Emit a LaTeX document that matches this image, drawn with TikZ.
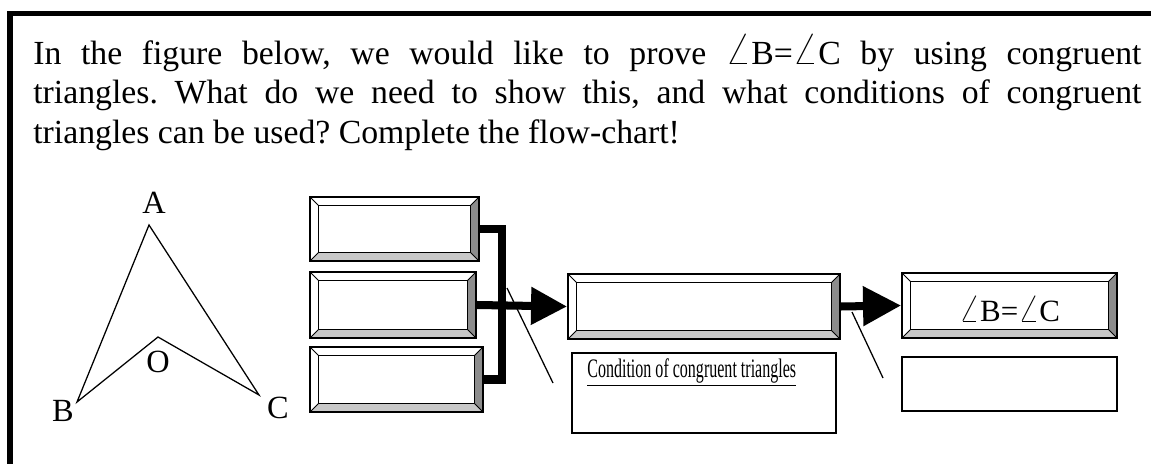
\documentclass[tikz,border=0pt]{standalone}
\usepackage{fontspec}
\setmainfont{Liberation Serif}
\usepackage{graphicx}
\usetikzlibrary{arrows.meta, calc}

\definecolor{bevdark}{HTML}{8c8c8c}
\definecolor{bevlight}{HTML}{c8c8c8}

\newcommand{\ang}{\smash{\scalebox{1.35}{$\angle$}}}
\def\bd{0.22cm}
\frenchspacing

\tikzset{
  bevel/.style={draw, line width=1.3pt, inner sep=0pt, path picture={
      \coordinate (nw) at (path picture bounding box.north west);
      \coordinate (ne) at (path picture bounding box.north east);
      \coordinate (sw) at (path picture bounding box.south west);
      \coordinate (se) at (path picture bounding box.south east);
      \fill[bevdark] (ne) -- (se) -- ([shift={(-\bd,\bd)}]se) -- ([shift={(-\bd,-\bd)}]ne) -- cycle;
      \fill[bevlight] (sw) -- (se) -- ([shift={(-\bd,\bd)}]se) -- ([shift={(\bd,\bd)}]sw) -- cycle;
      \draw[line width=1pt] ([shift={(\bd,\bd)}]sw) rectangle ([shift={(-\bd,-\bd)}]ne);
      \draw[line width=0.7pt] (nw) -- ++(\bd,-\bd) (ne) -- ++(-\bd,-\bd)
                              (sw) -- ++(\bd,\bd) (se) -- ++(-\bd,\bd);
  }},
  plainbox/.style={draw, line width=1.3pt, inner sep=0pt},
  bar/.style={line width=5.7pt},
  callout/.style={line width=0.9pt},
  lbl/.style={font=\fontsize{23}{26}\selectfont}
}

\begin{document}
\begin{tikzpicture}[x=0.025cm, y=-0.025cm]
  \useasboundingbox (0,0) rectangle (1151,464);

  % Frame
  \draw[line width=3.8pt] (10,470) -- (10,13.5) -- (1160,13.5);

  % Task text
  \node[anchor=north west, inner sep=0pt, text width=27.7cm, align=justify,
        font=\fontsize{24}{28.4}\selectfont] (task) at (33,40)
    {In the figure below, we would like to prove \ang B=\ang C by using congruent\linebreak
     triangles. What do we need to show this, and what conditions of congruent\linebreak
     triangles can be used? Complete the flow-chart!};

  % Triangle
  \coordinate (A) at (149,225);
  \coordinate (B) at (77,402);
  \coordinate (C) at (259,395);
  \coordinate (O) at (158,337);
  \draw[line width=0.9pt, line join=miter] (A) -- (B) -- (O) -- (C) -- cycle;
  \node[lbl] (la) at (154,203) {A};
  \node[lbl] (lo) at (158,362) {O};
  \node[lbl] (lb) at (63,411) {B};
  \node[lbl] (lc) at (278,408) {C};

  % Boxes
  \node[bevel, minimum width=4.225cm, minimum height=1.6cm] (b1) at (394.5,229) {};
  \node[bevel, minimum width=4.15cm, minimum height=1.65cm] (b2) at (393,305) {};
  \node[bevel, minimum width=4.325cm, minimum height=1.625cm] (b3) at (396.5,379.5) {};
  \node[bevel, minimum width=6.8cm, minimum height=1.625cm] (mid) at (704,306.5) {};
  \node[bevel, minimum width=5.375cm, minimum height=1.625cm, text height=0.82cm, text depth=0cm,
        font=\fontsize{22}{24}\selectfont] (res) at (1009.5,305.5) {\ang B=\ang C};
  \node[plainbox, minimum width=6.6cm, minimum height=2cm] (cond) at (704,393) {};
  \node[plainbox, minimum width=5.375cm, minimum height=1.35cm] (ans) at (1009.5,384) {};
  \node[anchor=base west, inner sep=0pt, font=\fontsize{19}{20}\selectfont] (condtxt)
    at ([xshift=0.4cm, yshift=-0.625cm]cond.north west)
    {\scalebox{0.6}[1]{\underline{Condition of congruent triangles}}};

  % Connectors
  \coordinate (jn) at (502,305);
  \draw[bar, line join=miter] (b1.east) -| (jn) |- (b3.east);
  \draw[bar, -{Triangle[length=0.9cm, width=0.9cm]}] (b2.east) -- (mid.west);
  \draw[bar, -{Triangle[length=0.95cm, width=0.95cm]}] (mid.east) -- (res.west);

  % Callout lines
  \coordinate (c1a) at (507,288);
  \coordinate (c1b) at (553,383);
  \coordinate (c2a) at (852,312);
  \coordinate (c2b) at (883,378);
  \draw[callout] (c1a) -- (c1b);
  \draw[callout] (c2a) -- (c2b);
\end{tikzpicture}
\end{document}
